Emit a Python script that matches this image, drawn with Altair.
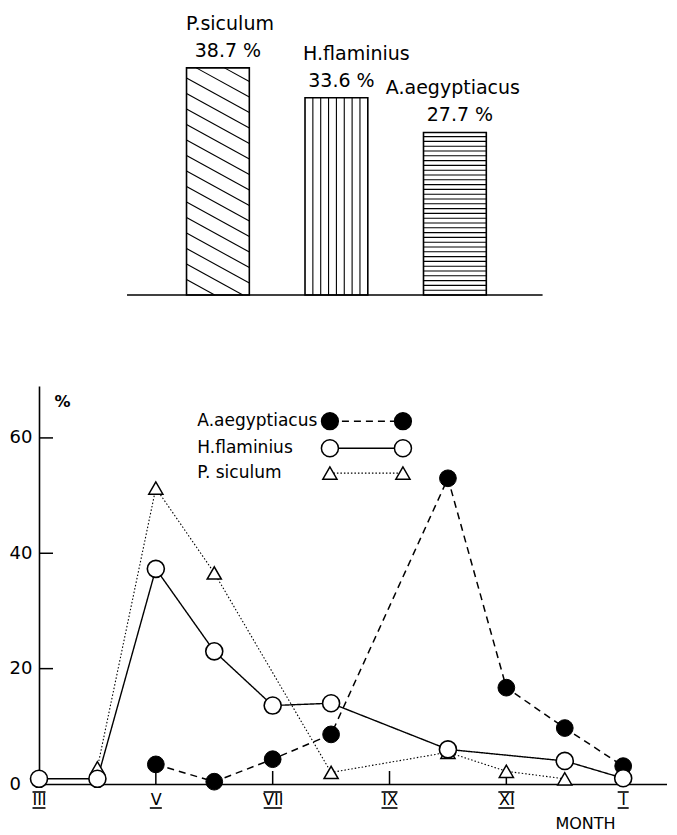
import altair as alt
import pandas as pd

# ---------------- data: top bar chart ----------------
species = ["P.siculum", "H.flaminius", "A.aegyptiacus"]
shares = [38.7, 33.6, 27.7]
share_labels = ["38.7 %", "33.6 %", "27.7 %"]
hatch_kinds = ["diag", "vert", "horiz"]

# ---------------- data: monthly line chart ----------------
tick_months = [3, 5, 7, 9, 11, 13]
tick_labels = ["III", "V", "VII", "IX", "XI", "I"]
y_ticks = [0, 20, 40, 60]

aeg_months = [5, 6, 7, 8, 10, 11, 12, 13]
aeg_values = [3.4, 0.4, 4.3, 8.6, 53.0, 16.7, 9.7, 3.1]
fla_months = [3, 4, 5, 6, 7, 8, 10, 12, 13]
fla_values = [0.9, 0.9, 37.3, 23.0, 13.6, 14.0, 6.0, 4.0, 1.0]
sic_months = [4, 5, 6, 8, 10, 11, 12]
sic_values = [2.8, 51.3, 36.6, 2.0, 5.5, 2.2, 0.9]
series_names = ["A.aegyptiacus", "H.flaminius", "P. siculum"]

# ---------------- layout / style constants ----------------
W = 628
H_TOP = 287
H_BOT = 398
TOP_X = [-0.51, 4.79]
TOP_Y = [0, 48.9]
BOT_X = [3, 13.75]
BOT_Y = [0, 69]
BAR_HALF = 0.265
BASE_X = [0.233, 3.74]
NAME_DX = [12, 20, -2]     # pixel nudges of the bar captions
VAL_DX = [10, 5, 5]
FONT = "DejaVu Sans"
FS = 17
FS_TOP = 19
# half-widths (px) of the bars drawn over / under each roman numeral
NUM_HW = [6.5, 6, 9, 8, 8, 5.5]
NUM_OVER = [True, False, True, True, True, True]

sx = W / (TOP_X[1] - TOP_X[0])
sy = H_TOP / (TOP_Y[1] - TOP_Y[0])
sxb = W / (BOT_X[1] - BOT_X[0])
syb = H_BOT / (BOT_Y[1] - BOT_Y[0])

xs_top = alt.Scale(domain=TOP_X, nice=False, zero=False)
ys_top = alt.Scale(domain=TOP_Y, nice=False, zero=False)
xs_bot = alt.Scale(domain=BOT_X, nice=False, zero=False)
ys_bot = alt.Scale(domain=BOT_Y, nice=False, zero=False)


def TX(f):
    return alt.X(f, type="quantitative", scale=xs_top, axis=None)


def TY(f):
    return alt.Y(f, type="quantitative", scale=ys_top, axis=None)


# ---------------- top chart ----------------
bars = pd.DataFrame({
    "name": species,
    "share": shares,
    "label": share_labels,
    "pos": [1, 2, 3],
})
bars["x0"] = bars["pos"] - BAR_HALF
bars["x1"] = bars["pos"] + BAR_HALF
bars["zero"] = 0.0
bars["nx"] = bars["pos"] + pd.Series(NAME_DX) / sx
bars["vx"] = bars["pos"] + pd.Series(VAL_DX) / sx

hatch = []
for i, (v, kind) in enumerate(zip(shares, hatch_kinds)):
    left = (i + 1) - BAR_HALF
    w = 2 * BAR_HALF * sx
    h = v * sy
    if kind == "diag":
        s, step = 0.55, 15.5
        b = step
        while b < h + s * w:
            u0 = max(0.0, (b - h) / s)
            u1 = min(w, b / s)
            hatch.append(dict(x=left + u0 / sx, x2=left + u1 / sx,
                              y=(b - s * u0) / sy, y2=(b - s * u1) / sy))
            b += step
    elif kind == "vert":
        n = 7
        for k in range(1, n + 1):
            u = w * k / (n + 1)
            hatch.append(dict(x=left + u / sx, x2=left + u / sx, y=0.0, y2=v))
    else:
        step = 4.8
        t = step
        while t < h - 1:
            hatch.append(dict(x=left, x2=left + w / sx, y=t / sy, y2=t / sy))
            t += step
hatch_df = pd.DataFrame(hatch)

hatch_layer = alt.Chart(hatch_df).mark_rule(color="black", strokeWidth=1.1).encode(
    x=TX("x"), x2="x2:Q", y=TY("y"), y2="y2:Q",
)
outline = alt.Chart(bars).mark_rect(fillOpacity=0, stroke="black", strokeWidth=1.6).encode(
    x=TX("x0"), x2="x1:Q", y=TY("share"), y2="zero:Q",
)
baseline = alt.Chart(pd.DataFrame({"a": [BASE_X[0]], "b": [BASE_X[1]], "y0": [0.0]})).mark_rule(
    color="black", strokeWidth=1.6
).encode(x=TX("a"), x2="b:Q", y=TY("y0"))
names = alt.Chart(bars).mark_text(font=FONT, fontSize=FS_TOP, dy=-44, color="black").encode(
    x=TX("nx"), y=TY("share"), text="name:N",
)
vals = alt.Chart(bars).mark_text(font=FONT, fontSize=FS_TOP, dy=-17, color="black").encode(
    x=TX("vx"), y=TY("share"), text="label:N",
)
top = alt.layer(hatch_layer, outline, baseline, names, vals).properties(width=W, height=H_TOP)

# ---------------- bottom chart ----------------
long = pd.concat([
    pd.DataFrame({"series": series_names[0], "month": aeg_months, "value": aeg_values}),
    pd.DataFrame({"series": series_names[1], "month": fla_months, "value": fla_values}),
    pd.DataFrame({"series": series_names[2], "month": sic_months, "value": sic_values}),
], ignore_index=True)

label_expr = " : ".join(
    f"datum.value == {m} ? '{t}'" for m, t in zip(tick_months, tick_labels)
) + " : ''"

x_axis = alt.Axis(values=tick_months, labelExpr=label_expr, ticks=False, grid=False,
                  labelFont=FONT, labelFontSize=16, labelPadding=7, labelFlush=False,
                  title="MONTH", titleX=546, titleY=44, titleAlign="center",
                  titleBaseline="alphabetic", titleFontSize=16, titleFont=FONT,
                  titleFontWeight="normal", domainWidth=1.6, domainColor="black")
y_axis = alt.Axis(values=y_ticks, ticks=False, grid=False, labelAlign="left",
                  labelPadding=30, labelFont=FONT, labelFontSize=18, labelFlush=False,
                  title="%", titleAngle=0, titleX=15, titleY=15, titleAlign="left",
                  titleBaseline="middle", titleFontSize=16, titleFont=FONT,
                  titleFontWeight="bold", domainWidth=1.6, domainColor="black")


def BX(f):
    return alt.X(f, type="quantitative", scale=xs_bot, axis=x_axis)


def BY(f):
    return alt.Y(f, type="quantitative", scale=ys_bot, axis=y_axis)


base = alt.Chart(long)
dash = {series_names[0]: [7, 5], series_names[1]: [1, 0], series_names[2]: [1.5, 2]}
widths = {series_names[0]: 1.5, series_names[1]: 1.4, series_names[2]: 1.1}

line_layers = [
    base.transform_filter(alt.datum.series == s).mark_line(
        color="black", strokeDash=dash[s], strokeWidth=widths[s]
    ).encode(x=BX("month"), y=BY("value"))
    for s in series_names
]

tri = base.transform_filter(alt.datum.series == series_names[2]).mark_point(
    shape="triangle-up", filled=True, fill="white", stroke="black", strokeWidth=1.5,
    size=200, opacity=1
).encode(x=BX("month"), y=BY("value"))
dots = base.transform_filter(alt.datum.series == series_names[0]).mark_point(
    shape="circle", filled=True, fill="black", stroke="black", strokeWidth=1,
    size=280, opacity=1
).encode(x=BX("month"), y=BY("value"))
rings = base.transform_filter(alt.datum.series == series_names[1]).mark_point(
    shape="circle", filled=True, fill="white", stroke="black", strokeWidth=1.6,
    size=290, opacity=1
).encode(x=BX("month"), y=BY("value"))

XT_LEN = 13 / syb   # inward tick length
YT_LEN = 14 / sxb
xt_df = pd.DataFrame({"month": tick_months[1:]})
xt_df["value"] = 0.0
xt_df["v2"] = XT_LEN
xt = alt.Chart(xt_df).mark_rule(color="black", strokeWidth=1.5).encode(
    x=BX("month"), y=BY("value"), y2="v2:Q"
)
yt_df = pd.DataFrame({"value": y_ticks[1:]})
yt_df["month"] = float(BOT_X[0])
yt_df["m2"] = BOT_X[0] + YT_LEN
yt = alt.Chart(yt_df).mark_rule(color="black", strokeWidth=1.5).encode(
    x=BX("month"), x2="m2:Q", y=BY("value")
)

# bars over / under the roman numerals
nb = []
for m, hw, over in zip(tick_months, NUM_HW, NUM_OVER):
    nb.append(dict(month=m - hw / sxb, m2=m + hw / sxb, value=-24 / syb))
    if over:
        nb.append(dict(month=m - hw / sxb, m2=m + hw / sxb, value=-8 / syb))
num_bars = alt.Chart(pd.DataFrame(nb)).mark_rule(color="black", strokeWidth=1.6).encode(
    x=BX("month"), x2="m2:Q", y=BY("value")
)

# legend (drawn in data space)
LEG_TX = 5.71
LEG_X0, LEG_X1 = 7.98, 9.23
LEG_Y = [62.9, 58.2, 53.9]
leg = pd.DataFrame({"series": series_names, "value": LEG_Y})
leg["month"] = LEG_TX
leg["lx0"] = LEG_X0
leg["lx1"] = LEG_X1
leg_text = alt.Chart(leg).mark_text(font=FONT, fontSize=FS, align="left", baseline="middle",
                                    color="black").encode(
    x=BX("month"), y=BY("value"), text="series:N"
)
leg_lines = [
    alt.Chart(leg).transform_filter(alt.datum.series == s).mark_rule(
        color="black", strokeDash=dash[s], strokeWidth=widths[s]
    ).encode(x=BX("lx0"), x2="lx1:Q", y=BY("value"))
    for s in series_names
]
leg_marks = []
for s, shp, fill, size in [(series_names[0], "circle", "black", 280),
                           (series_names[1], "circle", "white", 290),
                           (series_names[2], "triangle-up", "white", 200)]:
    for col in ("lx0", "lx1"):
        leg_marks.append(
            alt.Chart(leg).transform_filter(alt.datum.series == s).mark_point(
                shape=shp, filled=True, fill=fill, stroke="black", strokeWidth=1.5,
                size=size, opacity=1
            ).encode(x=BX(col), y=BY("value"))
        )

bottom = alt.layer(
    *line_layers, xt, yt, num_bars, tri, dots, rings, leg_text, *leg_lines, *leg_marks
).properties(width=W, height=H_BOT)

chart = alt.vconcat(top, bottom, spacing=90).properties(
    padding={"left": 1, "top": 0, "right": 0, "bottom": 0},
    background="white",
).configure_view(stroke=None).configure_axis(
    labelColor="black", titleColor="black"
)

chart.save("out.html", embed_options={"renderer": "svg", "actions": False})
